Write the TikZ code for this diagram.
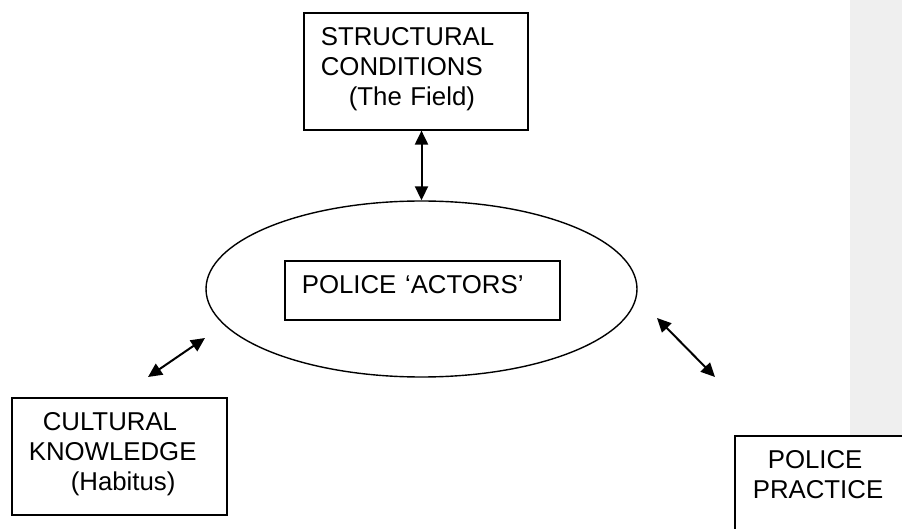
\documentclass[tikz,border=0pt]{standalone}
\usepackage{fontspec}
\setmainfont{Liberation Sans}
\usetikzlibrary{positioning}
\usetikzlibrary{shapes.geometric}
\usetikzlibrary{arrows.meta}
\definecolor{band}{HTML}{EFEFEF}

\begin{document}
\begin{tikzpicture}[x=1pt,y=-1pt,font=\fontsize{25.8}{30}\selectfont,
  box/.style={draw,line width=1.6pt,fill=white,inner xsep=17pt,inner ysep=0pt,
    text width=#1,align=left,text height=33pt,text depth=84pt,anchor=north west},
  link/.style={{Triangle[length=14pt,width=13pt]}-{Triangle[length=14pt,width=13pt]},line width=2pt}]
\useasboundingbox (0,0) rectangle (902,529);
\fill[band] (850,0) rectangle (902,529);

\node[box=190pt] (field) at (303,12) {STRUCTURAL\\CONDITIONS\\\hspace*{28pt}(The Field)};
\node[box=181pt] (habitus) at (11,397) {\hspace*{14pt}CULTURAL\\KNOWLEDGE\\\hspace*{42pt}(Habitus)};
\node[box=200pt] (practice) at (734,435) {\hspace*{16pt}POLICE\\\hspace*{1pt}PRACTICE};

\node[draw,ellipse,line width=1.4pt,minimum width=431pt,minimum height=176pt,inner sep=0pt] (ring) at (421.5,289) {};
\node[box=241pt,text depth=26pt] (actors) at (284,260) {POLICE ‘ACTORS’};

\coordinate (kn) at (148,377);
\coordinate (kr) at (205,338);
\coordinate (pr) at (657,318);
\coordinate (pp) at (715,377);

\draw[link] (ring.north |- field.south) -- (ring.north);
\draw[link] (kn) -- (kr);
\draw[link] (pr) -- (pp);
\end{tikzpicture}
\end{document}
